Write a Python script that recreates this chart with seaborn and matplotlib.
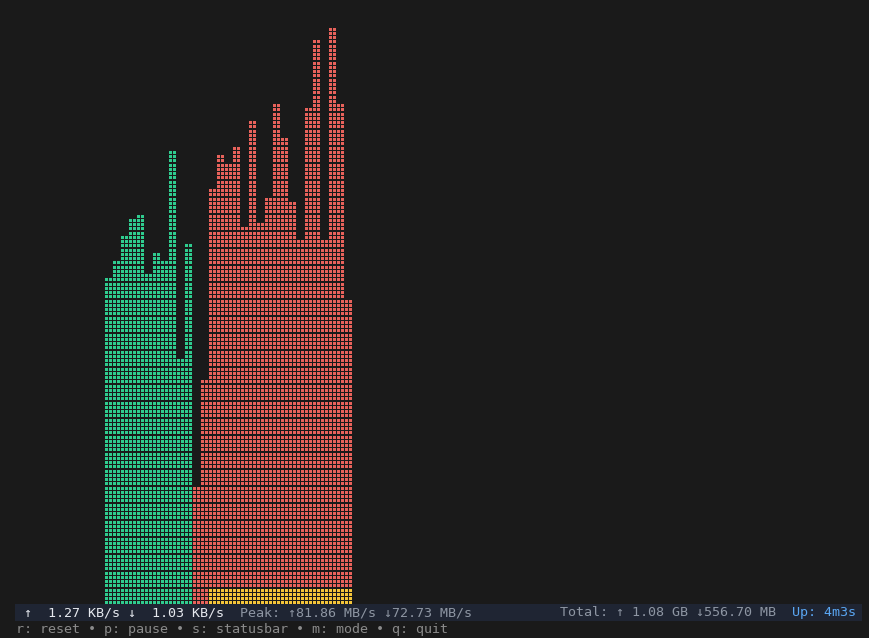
import numpy as np
import pandas as pd
import matplotlib
matplotlib.use('Agg')
import matplotlib.pyplot as plt
import seaborn as sns
from matplotlib.patches import Rectangle

# bar heights in braille dots, one value per sample (one braille cell = 2 dot columns)
upload_dots = [77, 81, 87, 91, 92, 78, 83, 81, 107, 58, 85]
download_dots = [28, 53, 98, 106, 104, 108, 89, 114, 90, 96,
                 118, 110, 95, 86, 117, 133, 86, 136, 118, 72]
# yellow strip under the download bars
base_dots = [0, 0, 4, 4, 4, 4, 4, 4, 4, 4, 4, 4, 4, 4, 4, 4, 4, 4, 4, 4]

rate_up, rate_down = "1.27 KB/s", "1.03 KB/s"
peak_up, peak_down = "81.86 MB/s", "72.73 MB/s"
total_up, total_down = "1.08 GB", "556.70 MB"
uptime = "4m3s"
keys = ["r: reset", "p: pause", "s: statusbar", "m: mode", "q: quit"]

BG = "#1a1a1a"
colors = {"upload": "#2fcc8f", "download": "#e8625b", "base": "#f4c53a"}

# expand the samples into single braille dots
rows = []
samples = [("upload", h, 0) for h in upload_dots] + \
          [("download", h, b) for h, b in zip(download_dots, base_dots)]
for k, (series, h, b) in enumerate(samples):
    for sub in range(2):
        for r in range(h):
            s = "base" if r < b else series
            # every 4 dots form one cell row, cells are separated by a small gap
            rows.append({"col": 2 * k + sub, "row": r + (r // 4) * 0.25, "series": s})
df = pd.DataFrame(rows)

W, H = 869, 638
fig = plt.figure(figsize=(W / 100, H / 100), dpi=100, facecolor=BG)
ax = fig.add_axes([0, 0, 1, 1])
ax.set_facecolor(BG)

sns.scatterplot(data=df, x="col", y="row", hue="series", palette=colors,
                marker="s", s=4.67, linewidth=0, legend=False, ax=ax,
                antialiased=False)

# one data unit = 4 px
ax.set_xlim(-106.5 / 4, (W - 106.5) / 4)
ax.set_ylim(-35.5 / 4, (H - 35.5) / 4)
ax.axis("off")

# status bar
fig.add_artist(Rectangle((15 / W, 1 - 621 / H), 847 / W, 17 / H,
                         transform=fig.transFigure, facecolor="#1f2533",
                         edgecolor="none"))

mono = dict(family="DejaVu Sans Mono", size=9.6, va="center", ha="left")


def term_text(col, line_y, s, color):
    fig.text((16 + col * 8) / W, 1 - line_y / H, s, color=color, **mono)


term_text(1, 612.5, f"↑  {rate_up} ↓  {rate_down}", "#e6e9ef")
term_text(28, 612.5, f"Peak: ↑{peak_up} ↓{peak_down}", "#8e96a3")
term_text(68, 612.5, f"Total: ↑ {total_up} ↓{total_down}", "#8e96a3")
term_text(97, 612.5, f"Up: {uptime}", "#5aa6f2")
term_text(0, 629.5, " • ".join(keys), "#8a8a8a")

fig.savefig("out.png", dpi=100, facecolor=BG)
